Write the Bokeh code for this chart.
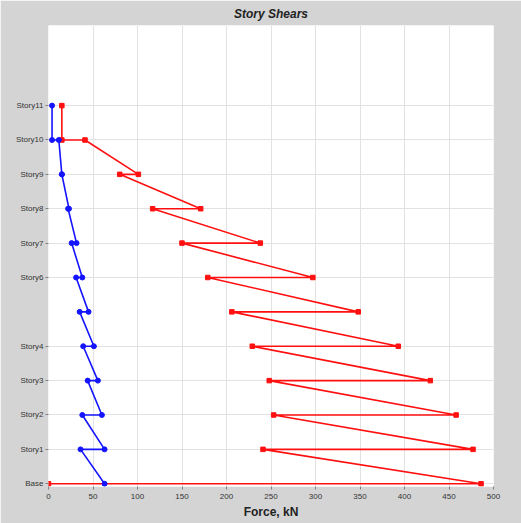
from bokeh.plotting import figure
from bokeh.embed import file_html
from bokeh.resources import INLINE
from bokeh.models import FixedTicker, Range1d

# ---- data ----
stories = ["Story11", "Story10", "Story9", "Story8", "Story7", "Story6",
           "Story5", "Story4", "Story3", "Story2", "Story1"]
levels = [11, 10, 9, 8, 7, 6, 5, 4, 3, 2, 1]
base_label = "Base"

red_top = [15, 41, 80, 117, 150, 179, 206, 229, 248, 253, 241]
red_bot = [15, 101, 171, 238, 297, 348, 393, 429, 458, 477, 486]
red_base_end = 0

blue_top = [4, 11.6, 15, 22, 26, 31, 35, 39, 44, 38, 36]
blue_bot = [4, 15, 23, 31.5, 38, 45, 51, 55.5, 60, 63, 63]

x_ticks = [0, 50, 100, 150, 200, 250, 300, 350, 400, 450, 500]
y_ticks = [0, 1, 2, 3, 4, 6, 7, 8, 9, 10, 11]


def zigzag(tops, bots):
    xs, ys = [], []
    for t, b, lv in zip(tops, bots, levels):
        xs += [t, b]
        ys += [lv, lv - 1]
    return xs, ys


rx, ry = zigzag(red_top, red_bot)
rx.append(red_base_end)
ry.append(0)
bx, by = zigzag(blue_top, blue_bot)

p = figure(width=521, height=523, output_backend="svg", toolbar_location=None,
           x_range=Range1d(0, 500), y_range=Range1d(-0.08, 13.33),
           min_border_left=48, min_border_right=28, min_border_top=25,
           min_border_bottom=37, title="Story Shears")

p.border_fill_color = "#d4d4d4"
p.background_fill_color = "white"
p.outline_line_color = None

p.title.align = "center"
p.title.text_font = "Liberation Sans"
p.title.text_font_size = "12px"
p.title.text_font_style = "bold italic"
p.title.text_color = "#222222"
p.title.standoff = 9
p.title.offset = 0

p.line(rx, ry, line_color="#ff1010", line_width=1.6)
p.scatter(rx, ry, marker="square", size=4.5, fill_color="#ff1010", line_color="#ff1010")
p.line(bx, by, line_color="#1414ff", line_width=1.6)
p.scatter(bx, by, marker="circle", size=5, fill_color="#1414ff", line_color="#1414ff")

labels = {0: base_label}
for s, lv in zip(stories, levels):
    labels[lv] = s
labels[5] = ""

p.yaxis.ticker = FixedTicker(ticks=y_ticks)
p.yaxis.major_label_overrides = {k: v for k, v in labels.items()}
p.xaxis.ticker = FixedTicker(ticks=x_ticks)
p.xaxis.axis_label = "Force, kN"

for ax in (p.xaxis, p.yaxis):
    ax.axis_line_color = None
    ax.major_tick_line_color = "#808080"
    ax.major_tick_in = 0
    ax.major_tick_out = 3
    ax.minor_tick_line_color = None
    ax.major_label_text_font = "Liberation Sans"
    ax.major_label_text_font_size = "8px"
    ax.major_label_text_color = "#333333"
    ax.major_label_text_line_height = 1.0
    ax.major_label_standoff = 2

p.xaxis.major_label_standoff = 4
p.xaxis.axis_label_text_font = "Liberation Sans"
p.xaxis.axis_label_text_font_size = "12px"
p.xaxis.axis_label_text_font_style = "bold"
p.xaxis.axis_label_text_color = "#222222"
p.xaxis.axis_label_text_line_height = 1.0
p.xaxis.axis_label_standoff = 3

p.xgrid.grid_line_color = "#e2e2e2"
p.ygrid.grid_line_color = "#e2e2e2"
p.xgrid.ticker = FixedTicker(ticks=x_ticks)
p.ygrid.ticker = FixedTicker(ticks=y_ticks)

open("out.html", "w").write(file_html(p, INLINE))
